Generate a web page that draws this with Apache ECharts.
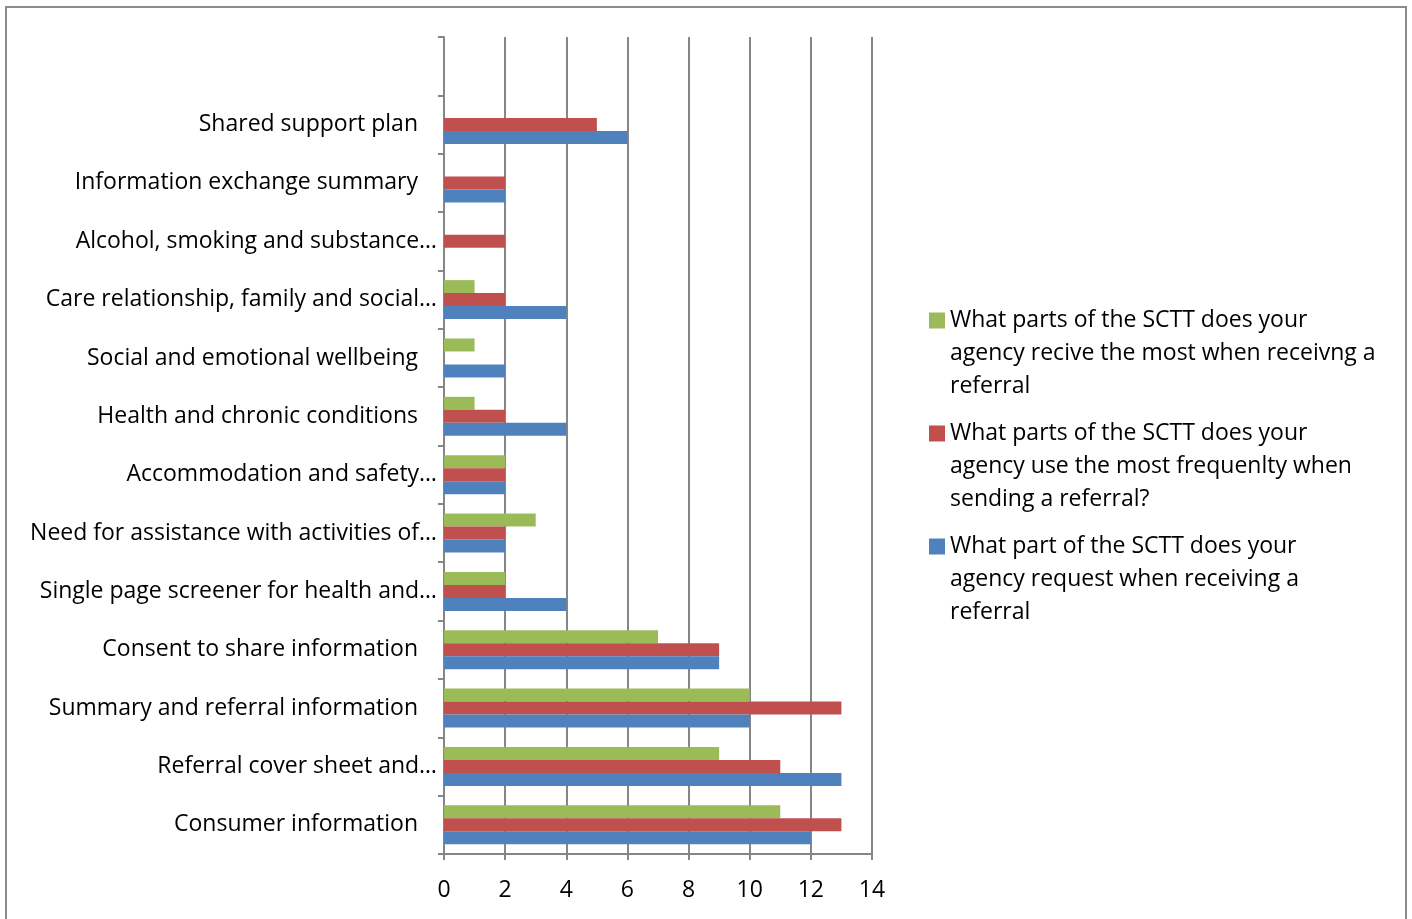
<!DOCTYPE html>
<html>
<head>
<meta charset="utf-8">
<script src="https://cdn.jsdelivr.net/npm/echarts@6/dist/echarts.min.js"></script>
<style>
  html, body { margin: 0; padding: 0; background: #fff; }
  #chart { width: 1412px; height: 919px; }
</style>
</head>
<body>
<div id="chart"></div>
<script>
// categories, bottom to top (top slot is empty in the original)
const categories = [
  "Consumer information",
  "Referral cover sheet and…",
  "Summary and referral information",
  "Consent to share information",
  "Single page screener for health and…",
  "Need for assistance with activities of…",
  "Accommodation and safety…",
  "Health and chronic conditions",
  "Social and emotional wellbeing",
  "Care relationship, family and social…",
  "Alcohol, smoking and substance…",
  "Information exchange summary",
  "Shared support plan",
  ""
];

const receiveName = "What parts of the SCTT does your\nagency recive the most when receivng a\nreferral";
const useName = "What parts of the SCTT does your\nagency use the most frequenlty when\nsending a referral?";
const requestName = "What part of the SCTT does your\nagency request when receiving a\nreferral";

const receiveValues = [11, 9, 10, 7, 2, 3, 2, 1, 1, 1, 0, 0, 0, null];
const useValues = [13, 11, 13, 9, 2, 2, 2, 2, 0, 2, 2, 2, 5, null];
const requestValues = [12, 13, 10, 9, 4, 2, 2, 4, 2, 4, 0, 2, 6, null];

const xTicks = [0, 14, 2]; // min, max, step

const colors = { receive: "#9BBB59", use: "#C0504D", request: "#4F81BD" };
const font = "'Open Sans', sans-serif";
const fontSize = 23;

let myChart = echarts.init(document.getElementById("chart"));

// legend text: coloured square on the first line, the other lines indented
function legendText(name) {
  let key = name === receiveName ? "sqG" : name === useName ? "sqR" : "sqB";
  let lines = name.split("\n");
  return lines
    .map((l, i) => (i === 0 ? "{" + key + "|}" : "{sp|}") + "{t|" + l + "}")
    .join("\n");
}

const sq = (c) => ({ backgroundColor: c, width: 16, height: 16, align: "left" });

let option = {
  backgroundColor: "#fff",
  animation: false,
  graphic: [
    {
      type: "rect",
      shape: { x: 6, y: 7, width: 1400, height: 940 },
      style: { fill: "none", stroke: "#8c8c8c", lineWidth: 2 },
      silent: true
    }
  ],
  grid: { left: 444, top: 37, width: 428, height: 817, containLabel: false },
  legend: {
    orient: "vertical",
    left: 919,
    top: 304,
    itemWidth: 0,
    itemHeight: 0,
    itemGap: 24,
    icon: "rect",
    data: [receiveName, useName, requestName],
    formatter: legendText,
    textStyle: {
      rich: {
        sqG: sq(colors.receive),
        sqR: sq(colors.use),
        sqB: sq(colors.request),
        sp: { width: 16, height: 16 },
        t: {
          fontFamily: font,
          fontSize: fontSize,
          color: "#000",
          lineHeight: 33,
          padding: [0, 0, 0, 5]
        }
      }
    }
  },
  xAxis: {
    type: "value",
    min: xTicks[0],
    max: xTicks[1],
    interval: xTicks[2],
    axisLine: { show: true, lineStyle: { color: "#868686", width: 2 } },
    axisTick: { show: true, length: 6, lineStyle: { color: "#868686", width: 2 } },
    axisLabel: { fontFamily: font, fontSize: fontSize, color: "#000", margin: 25 },
    splitLine: { show: true, lineStyle: { color: "#868686", width: 2 } }
  },
  yAxis: {
    type: "category",
    data: categories,
    axisLine: { show: true, lineStyle: { color: "#868686", width: 2 } },
    axisTick: { show: true, length: 6, lineStyle: { color: "#868686", width: 2 } },
    axisLabel: {
      margin: 7,
      interval: 0,
      formatter: (v) => (v.endsWith("…") ? "{e|" + v + "}" : "{n|" + v + "}"),
      rich: {
        e: { fontFamily: font, fontSize: fontSize, color: "#000" },
        n: { fontFamily: font, fontSize: fontSize, color: "#000", padding: [0, 19, 0, 0] }
      }
    },
    splitLine: { show: false }
  },
  // horizontal bars: the first series sits on top of each group
  series: [
    {
      name: receiveName,
      type: "bar",
      data: receiveValues,
      barWidth: 13,
      barGap: "0%",
      itemStyle: { color: colors.receive }
    },
    {
      name: useName,
      type: "bar",
      data: useValues,
      barWidth: 13,
      barGap: "0%",
      itemStyle: { color: colors.use }
    },
    {
      name: requestName,
      type: "bar",
      data: requestValues,
      barWidth: 13,
      barGap: "0%",
      itemStyle: { color: colors.request }
    }
  ]
};

myChart.setOption(option);
</script>
</body>
</html>
